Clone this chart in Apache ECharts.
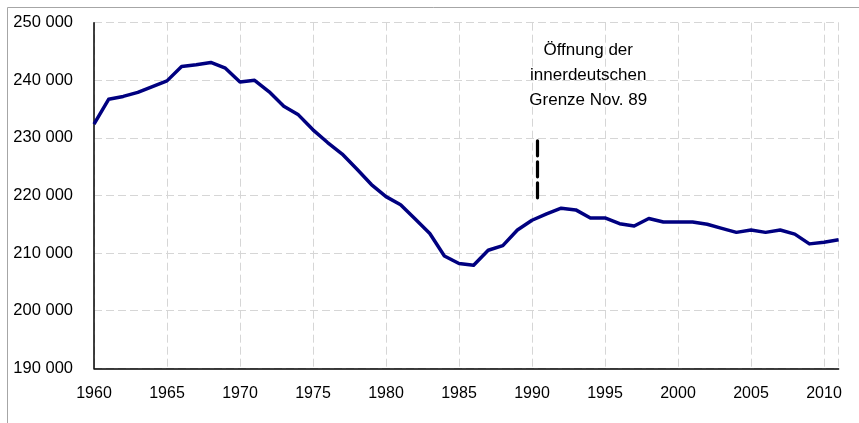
<!DOCTYPE html>
<html>
<head>
<meta charset="utf-8">
<script src="https://cdn.jsdelivr.net/npm/echarts@6/dist/echarts.min.js"></script>
<style>
html,body{margin:0;padding:0;background:#fff;}
#c{width:859px;height:423px;}
</style>
</head>
<body>
<div id="c"></div>
<script>
const years = [1960,1961,1962,1963,1964,1965,1966,1967,1968,1969,1970,1971,1972,1973,1974,1975,1976,1977,1978,1979,1980,1981,1982,1983,1984,1985,1986,1987,1988,1989,1990,1991,1992,1993,1994,1995,1996,1997,1998,1999,2000,2001,2002,2003,2004,2005,2006,2007,2008,2009,2010,2011];
const values = [232400,236700,237200,237900,238900,239900,242400,242700,243100,242100,239700,240000,238000,235500,234000,231400,229200,227200,224600,221900,219800,218400,215900,213400,209500,208200,207900,210500,211300,214000,215700,216800,217800,217500,216100,216100,215100,214700,216000,215400,215400,215400,215000,214300,213600,214000,213600,214000,213300,211600,211900,212300];
const yTicks = {min:190000, max:250000, interval:10000};
const xTicks = {min:1960, max:2011, interval:5};
const annotationText = 'Öffnung der\ninnerdeutschen\nGrenze Nov. 89';
const markerX = 1990.35;
const markerRange = [218900, 229500];
const annotationPos = [1993.85, 240800];

const fmt = v => String(v).replace(/\B(?=(\d{3})+(?!\d))/g, ' ');
const font = '"Liberation Sans", Arial, sans-serif';

const chart = echarts.init(document.getElementById('c'));
chart.setOption({
  animation: false,
  textStyle: {fontFamily: font},
  graphic: [{
    type: 'rect', silent: true,
    shape: {x: 7.5, y: 7.5, width: 900, height: 500},
    style: {fill: 'none', stroke: '#a6a6a6', lineWidth: 1}
  }],
  grid: {left: 94, top: 22.7, right: 20.4, bottom: 54.7},
  xAxis: {
    type: 'value', min: xTicks.min, max: xTicks.max, interval: xTicks.interval,
    axisLine: {show: true, onZero: false, lineStyle: {color: '#000', width: 1.5}},
    axisTick: {show: false},
    axisLabel: {color: '#000', fontSize: 16, fontFamily: font, margin: 17, showMaxLabel: false,
      formatter: v => String(v)},
    splitLine: {show: true, lineStyle: {color: '#d6d6d6', type: [8, 4], width: 1}}
  },
  yAxis: {
    type: 'value', min: yTicks.min, max: yTicks.max, interval: yTicks.interval,
    axisLine: {show: true, lineStyle: {color: '#000', width: 1.5}},
    axisTick: {show: false},
    axisLabel: {color: '#000', fontSize: 16.5, fontFamily: font, margin: 21, formatter: fmt},
    splitLine: {show: true, lineStyle: {color: '#d6d6d6', type: [8, 4], width: 1}}
  },
  series: [{
    type: 'line',
    data: years.map((y, i) => [y, values[i]]),
    showSymbol: false,
    lineStyle: {color: '#000080', width: 3.5, join: 'round'},
    itemStyle: {color: '#000080'},
    markLine: {
      silent: true, symbol: 'none', animation: false,
      lineStyle: {color: '#000', width: 3.2, type: [15, 6], cap: 'round'},
      label: {show: false},
      data: [[{coord: [markerX, markerRange[1]]}, {coord: [markerX, markerRange[0]]}]]
    },
    markPoint: {
      silent: true, symbol: 'circle', symbolSize: 0,
      label: {show: true, position: 'inside', color: '#000', fontSize: 17, lineHeight: 25,
        fontFamily: font, align: 'center', formatter: annotationText},
      data: [{coord: annotationPos}]
    }
  }]
});
</script>
</body>
</html>
